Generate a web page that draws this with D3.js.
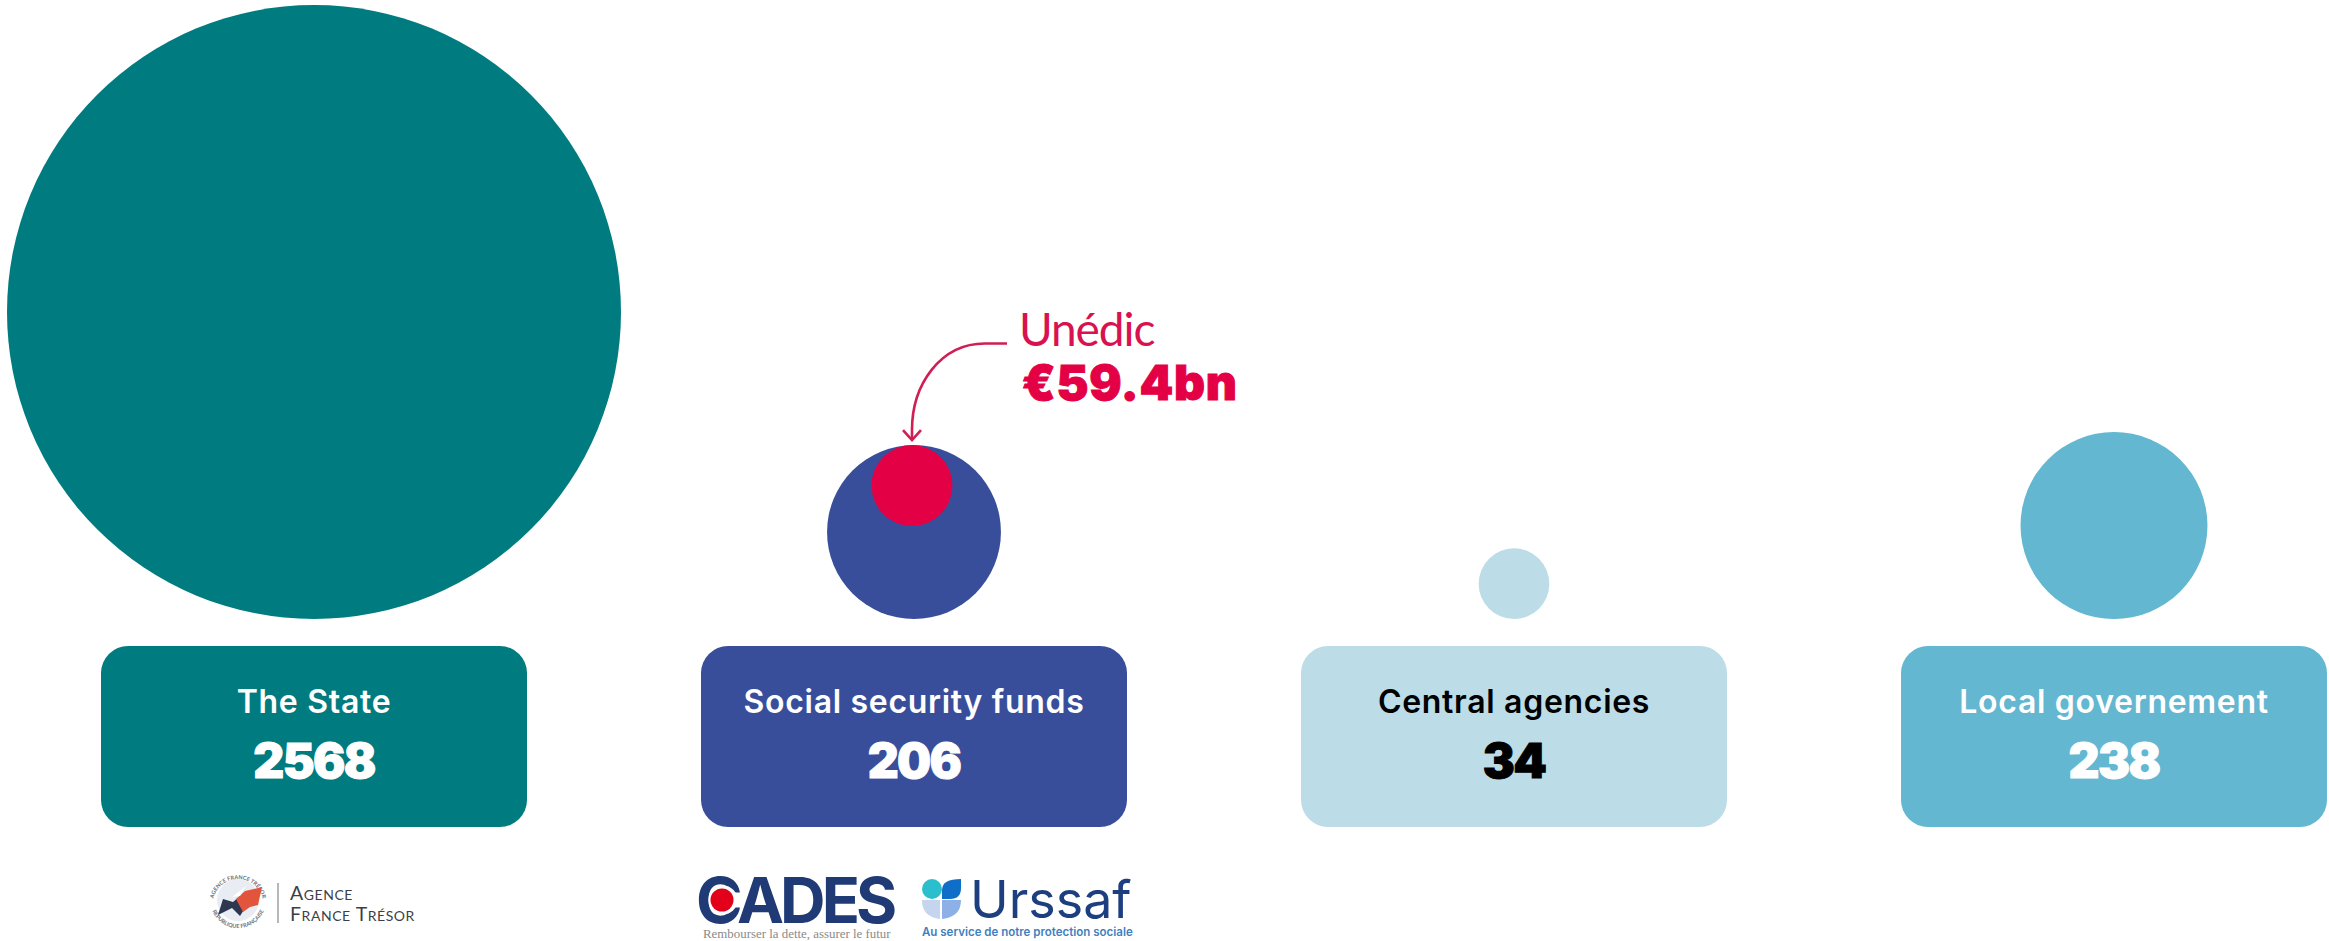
<!DOCTYPE html>
<html><head><meta charset="utf-8">
<style>html,body{margin:0;padding:0;background:#fff}svg{display:block}text{font-family:Inter,sans-serif}</style>
<script src="https://cdn.jsdelivr.net/npm/d3@7/dist/d3.min.js"></script>
</head><body><svg id="c" width="2329" height="941"></svg>
<script>
const categories=["The State","Social security funds","Central agencies","Local governement"];
const debtValues=[2568,206,34,238];
const cardColors=["#007b80","#394e9b","#bcdce7","#63b7d0"];
const labelColors=["#ffffff","#ffffff","#000000","#ffffff"];
const highlightName="Unédic";
const highlightLabel="€59.4bn";
const highlightValue=59.4;
const highlightColor="#e40045";

const W=2329,H=941,baseY=619,cardTop=646,cardH=181,cardW=426;
const svg=d3.select("#c").attr("viewBox",[0,0,W,H]);
const x=d3.scalePoint().domain(categories).range([314,2114]);
const r=d3.scaleSqrt().domain([0,2568]).range([0,307]);
const rInner=d3.scaleSqrt().domain([0,59.4]).range([0,40.5]);
const rows=categories.map((c,i)=>({c,v:debtValues[i],fill:cardColors[i],ink:labelColors[i]}));

svg.append("g").selectAll("circle").data(rows).join("circle")
 .attr("cx",d=>x(d.c)).attr("cy",d=>baseY-r(d.v)).attr("r",d=>r(d.v)).attr("fill",d=>d.fill);
const g=svg.append("g").selectAll("g").data(rows).join("g").attr("transform",d=>`translate(${x(d.c)},0)`);
g.append("rect").attr("x",-cardW/2).attr("y",cardTop).attr("width",cardW).attr("height",cardH).attr("rx",27).attr("fill",d=>d.fill);
g.append("text").attr("text-anchor","middle").attr("y",713).attr("font-size",32).attr("font-weight",600).attr("letter-spacing",0.7).attr("fill",d=>d.ink).text(d=>d.c);
g.append("text").attr("text-anchor","middle").attr("y",778).attr("font-size",48).attr("font-weight",900).attr("letter-spacing",-1.6)
 .attr("stroke",d=>d.ink).attr("stroke-width",1).attr("fill",d=>d.ink).text(d=>d.v);

// Unédic highlight
const socialX=x(categories[1]), socialTop=baseY-2*r(debtValues[1]);
const ir=rInner(highlightValue), ix=socialX-2;
svg.append("circle").attr("cx",ix).attr("cy",socialTop+ir).attr("r",ir).attr("fill",highlightColor);
const arrowTip=socialTop-5;
const ap=d3.path();
ap.moveTo(1007,343.5);ap.lineTo(985,343.5);ap.bezierCurveTo(940,343.5,ix,385,ix,430);ap.lineTo(ix,arrowTip);
svg.append("path").attr("d",ap.toString()).attr("fill","none").attr("stroke","#cf1f55").attr("stroke-width",2.6);
svg.append("path").attr("d",`M${ix-9},${arrowTip-10}L${ix},${arrowTip}L${ix+9},${arrowTip-10}`).attr("fill","none").attr("stroke","#cf1f55").attr("stroke-width",2.6);
svg.append("text").attr("x",1019).attr("y",346).style("font-family","Lato").attr("font-size",46).attr("font-weight",400).attr("letter-spacing",-1.1).attr("fill","#d9124f").text(highlightName);
svg.append("text").attr("x",1022).attr("y",400).attr("font-size",48).attr("font-weight",900).attr("letter-spacing",0.8)
 .attr("stroke",highlightColor).attr("stroke-width",1).attr("fill",highlightColor).text(highlightLabel);

// logos
const aft=svg.append("g");
aft.append("circle").attr("cx",238).attr("cy",900).attr("r",21).attr("fill","#e9ecf3");
aft.append("path").attr("id","aftTop").attr("d","M213,904A25,25 0 1 1 263,904").attr("fill","none");
aft.append("path").attr("id","aftBot").attr("d","M210,900A28,28 0 0 0 266,900").attr("fill","none");
aft.append("text").style("font-family","Lato").attr("font-size",5.5).attr("fill","#6a6f7a").attr("font-weight",700)
 .append("textPath").attr("href","#aftTop").attr("startOffset","50%").attr("text-anchor","middle").text("AGENCE FRANCE TRÉSOR");
aft.append("text").style("font-family","Lato").attr("font-size",5.5).attr("fill","#6a6f7a").attr("font-weight",700)
 .append("textPath").attr("href","#aftBot").attr("startOffset","50%").attr("text-anchor","middle").text("RÉPUBLIQUE FRANÇAISE");
aft.append("path").attr("d","M218,915L223,899L233,902L240,896L247,905L240,916L232,908Z").attr("fill","#2f3650");
aft.append("path").attr("d","M236,899L245,891L262,887L258,905L250,907L243,912Z").attr("fill","#e2553c");
aft.append("path").attr("d","M232,897L246,886L240,896Z").attr("fill","#ffffff");
aft.append("line").attr("x1",278).attr("x2",278).attr("y1",883).attr("y2",923).attr("stroke","#888").attr("stroke-width",1.2);
aft.selectAll("text.n").data(["Agence","France Trésor"]).join("text").attr("class","n").attr("x",290).attr("y",(d,i)=>900+i*21)
 .style("font-family","Lato").style("font-variant","small-caps").attr("font-size",19.5).attr("fill","#3c3f48").attr("letter-spacing",0.55).text(d=>d);

const cades=svg.append("g");
cades.append("text").attr("x",696).attr("y",923).attr("font-size",63).attr("font-weight",700).attr("letter-spacing",-3.9).attr("fill","#1f3a75").text("CADES");
cades.append("circle").attr("cx",723).attr("cy",900).attr("r",14.5).attr("fill","#fff");
cades.append("circle").attr("cx",722).attr("cy",900).attr("r",11.5).attr("fill","#e2001a");
cades.append("text").attr("x",703).attr("y",938).style("font-family","Liberation Serif").attr("font-size",12.9).attr("fill","#8a8a8a").text("Rembourser la dette, assurer le futur");

const ur=svg.append("g");
ur.append("circle").attr("cx",932).attr("cy",889).attr("r",10).attr("fill","#2bbfce");
ur.append("path").attr("d","M942,899V890Q942,879 961,879V888Q961,899 950,899Z").attr("fill","#0f6fc8");
ur.append("path").attr("d","M922,900H940V919Q922,917 922,900Z").attr("fill","#c5d5ee");
ur.append("path").attr("d","M942,900H961Q961,917 942,919Z").attr("fill","#8db0e6");
ur.append("text").attr("x",970).attr("y",918).attr("font-size",52).attr("font-weight",400).attr("fill","#1d3f80").text("Urssaf");
ur.append("text").attr("x",922).attr("y",936).attr("font-size",11.5).attr("font-weight",600).attr("fill","#3f7fc0").text("Au service de notre protection sociale");
</script></body></html>
